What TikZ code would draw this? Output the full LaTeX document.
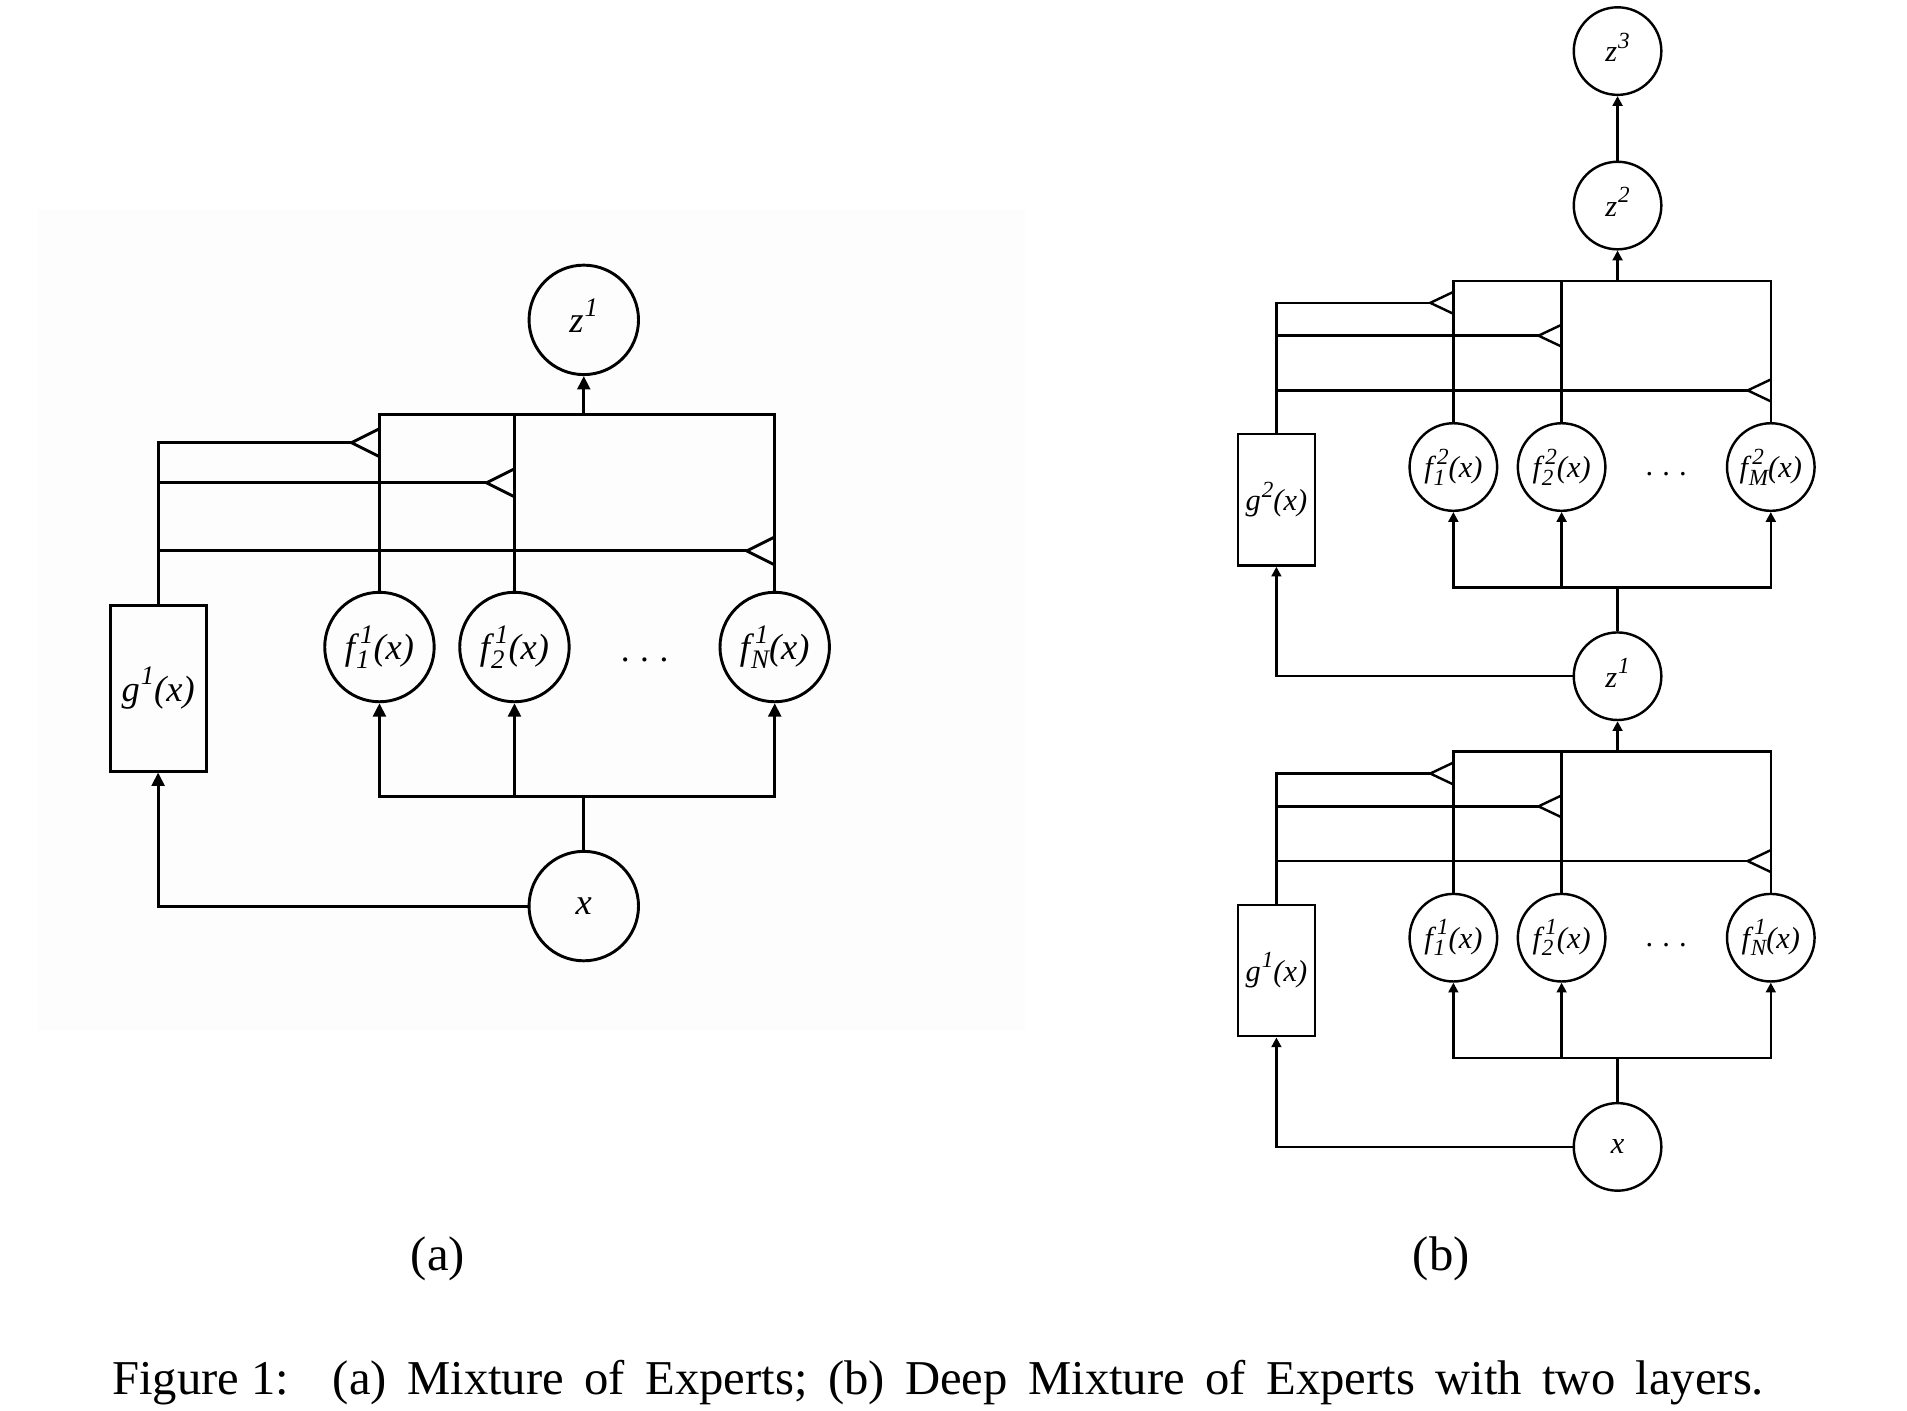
\documentclass[tikz,border=0pt]{standalone}
\usepackage{fontspec}
\setmainfont{Liberation Serif}
\usetikzlibrary{arrows.meta}

% \SubSup[kern before superscript]{script size}{sub}{sup}
\newcommand\SubSup[4][0.03em]{%
  \begingroup
  \setbox0\hbox{\kern0.03em\raisebox{-0.24em}{\fontsize{#2}{#2}\selectfont #3}}%
  \setbox2\hbox{\kern#1\raisebox{0.45em}{\fontsize{#2}{#2}\selectfont #4}}%
  \dimen0=\wd0 \ifdim\wd2>\dimen0 \dimen0=\wd2 \fi
  \hbox to \dimen0{\rlap{\box0}\box2\hfil}%
  \endgroup}

\tikzset{
  pa/.style={line width=2.4pt, line join=miter},
  pb/.style={line width=2pt, line join=miter},
  circA/.style={circle, draw, pa, minimum size=90pt, inner sep=0pt,
    font=\fontsize{30}{31}\selectfont\itshape},
  boxA/.style={rectangle, draw, pa, minimum width=79pt, minimum height=136pt,
    inner sep=0pt, font=\fontsize{30}{31}\selectfont\itshape},
  circB/.style={circle, draw, pb, minimum size=72pt, inner sep=0pt,
    font=\fontsize{25}{26}\selectfont\itshape},
  boxB/.style={rectangle, draw, pb, minimum width=63pt, minimum height=108pt,
    inner sep=0pt, font=\fontsize{25}{26}\selectfont\itshape},
  arrA/.style={pa, -{Triangle[length=11pt,width=10.5pt]}},
  arrB/.style={pb, -{Triangle[length=8pt,width=8pt]}},
  dotsA/.style={anchor=base, inner sep=0pt, font=\fontsize{29}{30}\selectfont},
  dotsB/.style={anchor=base, inner sep=0pt, font=\fontsize{25}{26}\selectfont},
  capt/.style={inner sep=0pt, font=\fontsize{40}{42}\selectfont},
}

% one layer of panel (b)
% #1 prefix, #2 top bar y, #3 source node, #4 output node, #5 superscript, #6 last subscript
\newcommand\DLayer[6]{%
  \node[boxB]  (#1g)  at (1049.5,{#2+180}) {g\SubSup{19}{}{#5}(x)};
  \node[circB] (#1f1) at (1195,{#2+153}) {f\SubSup[0.14em]{19}{1}{#5}(x)};
  \node[circB] (#1f2) at (1284,{#2+153}) {f\SubSup[0.14em]{19}{2}{#5}(x)};
  \node[circB] (#1fn) at (1456,{#2+153}) {f\SubSup[0.14em]{19}{#6}{#5}(x)};
  \node[dotsB] (#1dots) at (1370,{#2+160}) {.\hspace{0.3em}.\hspace{0.3em}.};
  \coordinate (#1top) at (1330,#2);
  \coordinate (#1bot) at (1330,{#2+252});
  % output combination bar
  \draw[pb] (#1f1.north) |- (#1top) -| (#1fn.north);
  \draw[pb] (#1f2.north) -- (#1f2.north |- #1top);
  \draw[arrB] (#1top) -- (#4.south);
  % gating lines
  \draw[pb] (#1g.north) |- (1176,{#2+18});
  \draw[pb] (1049.5,{#2+45}) -- (1265,{#2+45});
  \draw[pb] (1049.5,{#2+90}) -- (1437,{#2+90});
  \draw[pb] (1195,{#2+9}) -- (1176,{#2+18}) -- (1195,{#2+27});
  \draw[pb] (1284,{#2+36}) -- (1265,{#2+45}) -- (1284,{#2+54});
  \draw[pb] (1456,{#2+81}) -- (1437,{#2+90}) -- (1456,{#2+99});
  % input distribution
  \draw[pb] (#3.north) -- (#1bot);
  \draw[arrB] (#1bot) -| (#1f1.south);
  \draw[arrB] (#1bot) -| (#1fn.south);
  \draw[arrB] (#1f2.south |- #1bot) -- (#1f2.south);
  \draw[arrB] (#3.west) -| (#1g.south);
}

\begin{document}
\begin{tikzpicture}[x=1pt, y=-1pt]
\useasboundingbox (0,0) rectangle (1568,1160);
\fill[black!0.8] (31,172) rectangle (843,848);

% ---------------- panel (a) ----------------
\node[circA] (za)  at (480,263) {z\SubSup{22}{}{1}};
\node[circA] (f1a) at (312,532) {f\SubSup[0.14em]{22}{1}{1}(x)};
\node[circA] (f2a) at (423,532) {f\SubSup[0.14em]{22}{2}{1}(x)};
\node[circA] (fna) at (637,532) {f\SubSup[0.14em]{22}{N}{1}(x)};
\node[boxA]  (ga)  at (130,566) {g\SubSup{22}{}{1}(x)};
\node[circA] (xa)  at (480,745) {x};
\node[dotsA] (dotsa) at (530,544) {.\hspace{0.3em}.\hspace{0.3em}.};

\coordinate (ta) at (480,341);
\coordinate (ba) at (480,655);
\draw[pa] (f1a.north) |- (ta) -| (fna.north);
\draw[pa] (f2a.north) -- (f2a.north |- ta);
\draw[arrA] (ta) -- (za.south);

\draw[pa] (ga.north) |- (289,364);
\draw[pa] (130,397) -- (400,397);
\draw[pa] (130,453) -- (614,453);
\draw[pa] (312,352.5) -- (289,364) -- (312,375.5);
\draw[pa] (423,385.5) -- (400,397) -- (423,408.5);
\draw[pa] (637,441.5) -- (614,453) -- (637,464.5);

\draw[pa] (xa.north) -- (ba);
\draw[arrA] (ba) -| (f1a.south);
\draw[arrA] (ba) -| (fna.south);
\draw[arrA] (f2a.south |- ba) -- (f2a.south);
\draw[arrA] (xa.west) -| (ga.south);

% ---------------- panel (b) ----------------
\node[circB] (z3b) at (1330,42)  {z\SubSup{19}{}{3}};
\node[circB] (z2b) at (1330,169) {z\SubSup{19}{}{2}};
\node[circB] (z1b) at (1330,556) {z\SubSup{19}{}{1}};
\node[circB] (xb)  at (1330,943) {x};
\draw[arrB] (z2b.north) -- (z3b.south);

\DLayer{u}{231}{z1b}{z2b}{2}{M}
\DLayer{l}{618}{xb}{z1b}{1}{N}

% ---------------- labels ----------------
\node[capt] (laba) at (360,1035) {(a)};
\node[capt] (labb) at (1185,1035) {(b)};
\node[capt, anchor=west] (cap) at (92,1137) {Figure 1:\hspace{0.9em}{\spaceskip=0.42em (a) Mixture of Experts; (b) Deep Mixture of Experts with two layers.}};
\end{tikzpicture}
\end{document}
